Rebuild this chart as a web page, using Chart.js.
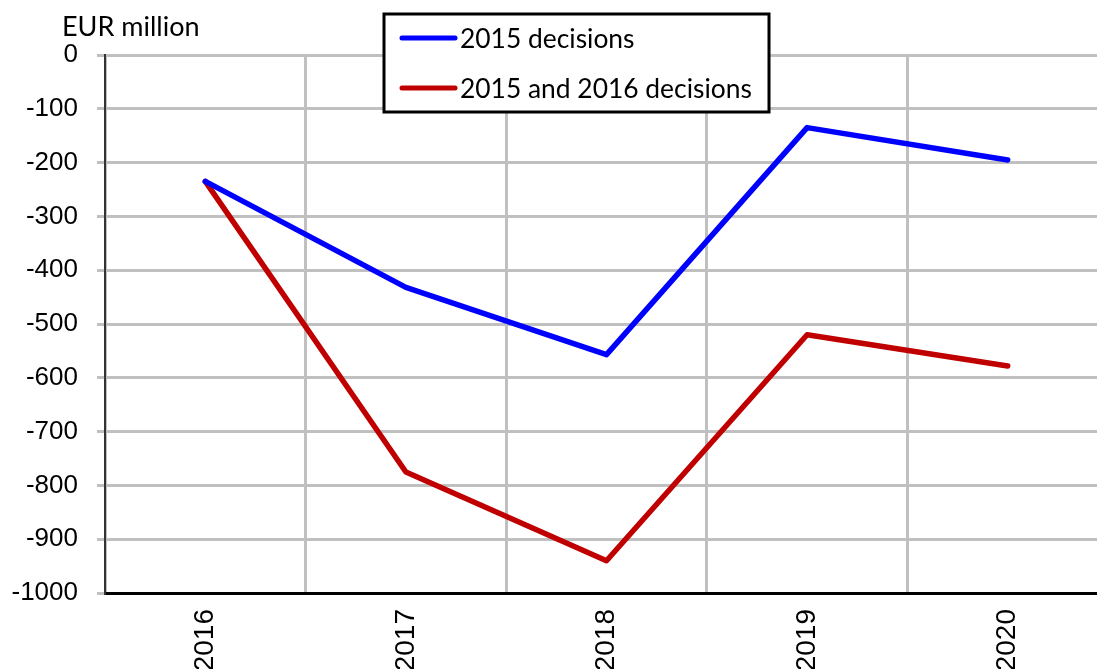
<!DOCTYPE html>
<html>
<head>
<meta charset="utf-8">
<script src="https://cdn.jsdelivr.net/npm/chart.js@4"></script>
<style>
html,body{margin:0;padding:0;background:#fff;overflow:hidden;width:1097px;height:669px;}
canvas{display:block;}
</style>
</head>
<body>
<canvas id="c" width="1110" height="669" style="width:1110px;height:669px"></canvas>
<script>
const years = ["2016", "2017", "2018", "2019", "2020"];
const decisions2015 = [-235, -432, -557, -135, -195];
const decisions2015and2016 = [-235, -775, -940, -520, -578];
const seriesLabels = ["2015 decisions", "2015 and 2016 decisions"];
const unitLabel = "EUR million";

const overlay = {
  id: 'overlay',
  afterDraw(chart) {
    const ctx = chart.ctx;
    ctx.save();
    // unit label
    ctx.fillStyle = '#000';
    ctx.font = '27px Lato, "Liberation Sans", sans-serif';
    ctx.textBaseline = 'middle';
    ctx.textAlign = 'left';
    ctx.fillText(unitLabel, 62, 27);
    // legend box
    const bx = 384, by = 14, bw = 385, bh = 98;
    ctx.fillStyle = '#fff';
    ctx.fillRect(bx, by, bw, bh);
    ctx.lineWidth = 3;
    ctx.strokeStyle = '#000';
    ctx.strokeRect(bx, by, bw, bh);
    chart.data.datasets.forEach((ds, i) => {
      const y = 38 + i * 50;
      ctx.beginPath();
      ctx.lineWidth = 5;
      ctx.lineCap = 'round';
      ctx.strokeStyle = ds.borderColor;
      ctx.moveTo(402, y);
      ctx.lineTo(455, y);
      ctx.stroke();
      ctx.fillStyle = '#000';
      ctx.font = '26.4px Lato, "Liberation Sans", sans-serif';
      ctx.textBaseline = 'middle';
      ctx.fillText(ds.label, 460, y + 1);
    });
    ctx.restore();
  }
};

new Chart(document.getElementById('c'), {
  type: 'line',
  data: {
    labels: years,
    datasets: [
      { label: seriesLabels[0], data: decisions2015, borderColor: '#0000FF', borderWidth: 5.5, pointRadius: 0, tension: 0, borderCapStyle: 'round', borderJoinStyle: 'round' },
      { label: seriesLabels[1], data: decisions2015and2016, borderColor: '#C00000', borderWidth: 5.5, pointRadius: 0, tension: 0, borderCapStyle: 'round', borderJoinStyle: 'round' }
    ]
  },
  options: {
    responsive: false,
    animation: false,
    events: [],
    layout: { padding: { top: 55, right: 2, bottom: 0, left: 0 } },
    plugins: { legend: { display: false }, tooltip: { enabled: false } },
    scales: {
      x: {
        type: 'category',
        offset: true,
        grid: { offset: true, color: '#c0c0c0', lineWidth: 3, drawTicks: false },
        border: { display: true, color: '#000', width: 3 },
        ticks: { color: '#000', font: { family: '"Liberation Sans", Arial, sans-serif', size: 28 }, minRotation: 90, maxRotation: 90, padding: 16, autoSkip: false },
        afterFit(scale) { scale.height = 76; }
      },
      y: {
        min: -1000,
        max: 0,
        grid: { color: '#c0c0c0', lineWidth: 3, tickLength: 8 },
        border: { display: true, color: '#333', width: 2 },
        ticks: { stepSize: 100, color: '#000', font: { family: '"Liberation Sans", Arial, sans-serif', size: 26 }, padding: 19, callback: (v) => String(v) },
        afterFit(scale) { scale.width = 105; }
      }
    }
  },
  plugins: [overlay]
});
</script>
</body>
</html>
